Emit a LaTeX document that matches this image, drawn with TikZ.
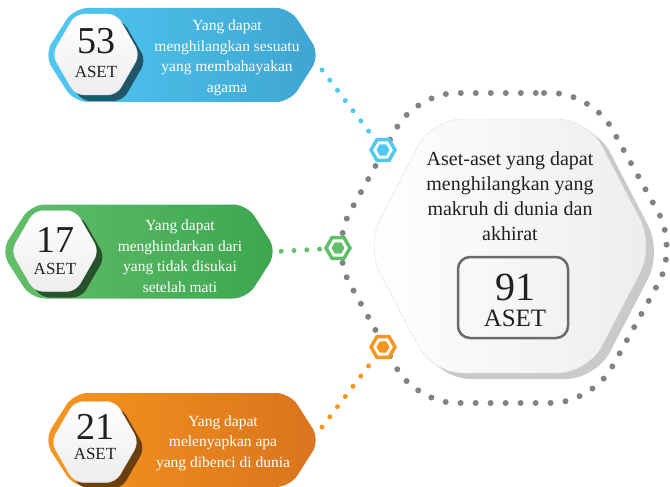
\documentclass[tikz,border=0pt]{standalone}
\usepackage{fontspec}
\setmainfont{Liberation Serif}
\usepackage{xcolor}
\usetikzlibrary{shapes.geometric, shapes.symbols, shadows, backgrounds, positioning}

\definecolor{bluelt}{HTML}{4FC9F2}
\definecolor{bluedk}{HTML}{3FA4D2}
\definecolor{greenlt}{HTML}{63BE6A}
\definecolor{greendk}{HTML}{3CA64F}
\definecolor{orangelt}{HTML}{F7951F}
\definecolor{orangedk}{HTML}{D8741D}
\definecolor{dotgray}{HTML}{808285}
\definecolor{boxgray}{HTML}{6A6B6E}
\definecolor{inkblack}{HTML}{231F20}

\begin{document}
\begin{tikzpicture}[
    x=1pt, y=-1pt,
    pill/.style={signal, signal to=west and east, signal pointer angle=115, minimum width=276pt, minimum height=94pt, rounded corners=14pt, inner sep=0pt},
    whitehex/.style={signal, signal to=west and east, signal pointer angle=120, minimum width=88pt, minimum height=81pt, rounded corners=9pt, inner sep=0pt, top color=white, bottom color=gray!14, draw=gray!20, drop shadow={shadow xshift=6pt, shadow yshift=-6pt, fill=black, opacity=0.55}},
    bighex/.style={signal, signal to=west and east, signal pointer angle=125, minimum width=288pt, minimum height=254pt, rounded corners=30pt, inner sep=0pt, left color=white, right color=gray!14, draw=gray!25, drop shadow={shadow xshift=8pt, shadow yshift=-6pt, fill=gray!70, opacity=0.6}},
    ring/.style={signal, signal to=west and east, signal pointer angle=122, minimum width=348pt, minimum height=310pt, rounded corners=40pt, inner sep=0pt, draw=dotgray, line width=6pt, line cap=round, dash pattern=on 0pt off 15pt},
    iconhex/.style={regular polygon, regular polygon sides=6, minimum size=24pt, inner sep=0pt, draw=#1, line width=3.5pt, fill=white},
    icondot/.style={regular polygon, regular polygon sides=6, minimum size=13pt, inner sep=0pt, fill=#1},
    dotline/.style={draw=#1, line width=5pt, line cap=round, dash pattern=on 0pt off 12.8pt},
    pilltext/.style={text=white, align=center, font=\fontsize{15.5}{20.5}\selectfont},
    numtext/.style={text=inkblack, inner sep=0pt, font=\fontsize{38}{38}\selectfont},
    asettext/.style={text=inkblack, inner sep=0pt, font=\fontsize{17}{17}\selectfont},
    maintext/.style={text=inkblack, align=center, font=\fontsize{20}{25}\selectfont}
]
\useasboundingbox (0,0) rectangle (670,487);

% Icons on the ring
\node[iconhex=bluelt] (blueicon) at (383,150) {};
\node[iconhex=greenlt] (greenicon) at (338,248) {};
\node[iconhex=orangelt] (orangeicon) at (383,347) {};
\node[icondot=bluelt] (bluedot) at (blueicon) {};
\node[icondot=greenlt] (greendot) at (greenicon) {};
\node[icondot=orangelt] (orangedot) at (orangeicon) {};

% Central hexagon
\node[bighex] (center) at (510,246) {};
\node[maintext] (maintitle) at (510,196) {Aset-aset yang dapat\\menghilangkan yang\\makruh di dunia dan\\akhirat};
\node[draw=boxgray, line width=2.5pt, rounded corners=12pt, minimum width=110pt, minimum height=81pt] (totalbox) at (513,297.5) {};
\node[numtext, font=\fontsize{40}{40}\selectfont] (totalnum) at (515,287) {91};
\node[asettext, font=\fontsize{25}{25}\selectfont] (totalaset) at (515,318) {ASET};

% Blue item
\node[pill, left color=bluelt, right color=bluedk] (bluepill) at (182,55) {};
\node[whitehex] (bluehex) at (96,54.5) {};
\node[numtext] (bluenum) at (96,41.5) {53};
\node[asettext] (blueaset) at (96,71.5) {ASET};
\node[pilltext] (bluetext) at (227,58) {Yang dapat\\menghilangkan sesuatu\\yang membahayakan\\agama};

% Green item
\node[pill, left color=greenlt, right color=greendk] (greenpill) at (139,251.5) {};
\node[whitehex] (greenhex) at (55,251) {};
\node[numtext] (greennum) at (55,240) {17};
\node[asettext] (greenaset) at (55,269) {ASET};
\node[pilltext] (greentext) at (180,256) {Yang dapat\\menghindarkan dari\\yang tidak disukai\\setelah mati};

% Orange item
\node[pill, left color=orangelt, right color=orangedk] (orangepill) at (182,440) {};
\node[whitehex] (orangehex) at (95,442) {};
\node[numtext] (orangenum) at (95,426.5) {21};
\node[asettext] (orangeaset) at (95,454) {ASET};
\node[pilltext] (orangetext) at (223,443) {Yang dapat\\melenyapkan apa\\yang dibenci di dunia};

% Ring and connectors behind
\coordinate (bluestart) at (322,70);
\coordinate (orangestart) at (322,427);
\begin{scope}[on background layer]
    \node[ring] (ring) at (504,248) {};
    \draw[dotline=bluelt] (bluestart) -- (blueicon);
    \draw[dotline=greenlt, shorten <=4pt] (greenpill.east) -- (greenicon);
    \draw[dotline=orangelt] (orangestart) -- (orangeicon);
\end{scope}

\end{tikzpicture}
\end{document}
